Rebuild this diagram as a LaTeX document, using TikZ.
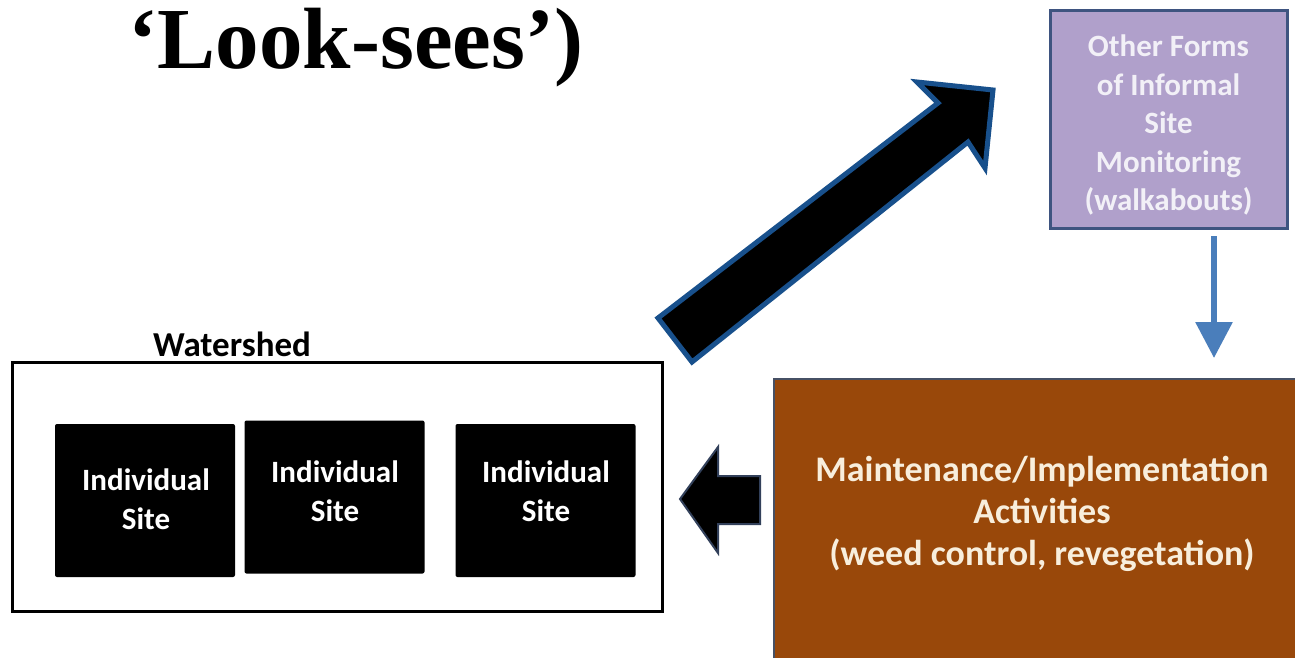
\documentclass[tikz,border=0pt]{standalone}
\usepackage{fontspec}
\setmainfont{Liberation Serif}
\newfontfamily\calib{Carlito}
\usetikzlibrary{arrows.meta}
\definecolor{purplefill}{RGB}{176,160,203}
\definecolor{purpleborder}{RGB}{62,84,128}
\definecolor{purpletext}{RGB}{242,240,247}
\definecolor{brownfill}{RGB}{153,72,10}
\definecolor{brownborder}{RGB}{70,80,100}
\definecolor{browntext}{RGB}{248,238,220}
\definecolor{arrowblue}{RGB}{74,126,187}
\definecolor{bigborder}{RGB}{24,80,140}
\definecolor{leftborder}{RGB}{50,64,90}
\tikzset{
  sitebox/.style={fill=black, rounded corners=2pt, minimum width=180pt, minimum height=153pt, inner sep=0pt},
  sitetext/.style={text=white, align=center, inner sep=0pt, font=\calib\bfseries\fontsize{31}{39.5}\selectfont},
  blockarrow/.style={fill=black, line join=miter},
}
\begin{document}
\begin{tikzpicture}[x=1pt,y=-1pt]
\useasboundingbox (0,0) rectangle (1295,657);
\fill[white] (0,0) rectangle (1295,657);
% title
\node[anchor=base, inner sep=0pt, font=\bfseries\fontsize{87}{90}\selectfont] (title) at (356,68) {‘Look-sees’)};
% purple box
\node[fill=purplefill, draw=purpleborder, line width=3pt, minimum width=237pt, minimum height=218pt, inner sep=0pt] (monitor) at (1168.5,119) {};
\node[text=purpletext, align=center, inner sep=0pt, font=\calib\bfseries\fontsize{31}{38.5}\selectfont] (monitortext) at (1168.5,125) {Other Forms\\of Informal\\Site\\Monitoring\\(walkabouts)};
% brown box
\node[fill=brownfill, draw=brownborder, line width=1.5pt, minimum width=540pt, minimum height=300pt, inner sep=0pt, anchor=north west] (maint) at (773,378) {};
\node[text=browntext, align=center, inner sep=0pt, font=\calib\bfseries\fontsize{36}{42}\selectfont] (mainttext) at (1042,514) {Maintenance/Implementation\\Activities\\(weed control, revegetation)};
% down arrow
\coordinate (downstart) at (1214,236);
\coordinate (downend) at (1214,358);
\draw[arrowblue, line width=6pt, -{Triangle[width=36pt,length=36pt]}] (downstart) -- (downend);
% watershed
\node[font=\calib\bfseries\fontsize{35}{36}\selectfont, inner sep=0pt] (wlabel) at (232,344) {Watershed};
\node[draw=black, line width=3pt, minimum width=650pt, minimum height=249pt, inner sep=0pt] (watershed) at (337,486.5) {};
\node[sitebox] (site1) at (145,500.5) {};
\node[sitebox] (site2) at (334.5,497) {};
\node[sitebox] (site3) at (545.5,500.5) {};
\node[sitetext] (site1t) at (146,499) {Individual\\Site};
\node[sitetext] (site2t) at (335,491) {Individual\\Site};
\node[sitetext] (site3t) at (546,491) {Individual\\Site};
% big diagonal arrow
\fill[blockarrow] (658,318) -- (938,103) -- (917,82) -- (993,90) -- (985,168) -- (968,142) -- (692,362) -- cycle;
\draw[bigborder, line width=5pt, line join=miter] (658,318) -- (938,103) -- (917,82) -- (993,90) -- (985,168) -- (968,142) -- (692,362) -- cycle;
% left block arrow
\draw[blockarrow, draw=leftborder, line width=2pt] (760,476) -- (718,476) -- (718,447) -- (680,499) -- (718,553) -- (718,524) -- (760,524) -- cycle;
\end{tikzpicture}
\end{document}
